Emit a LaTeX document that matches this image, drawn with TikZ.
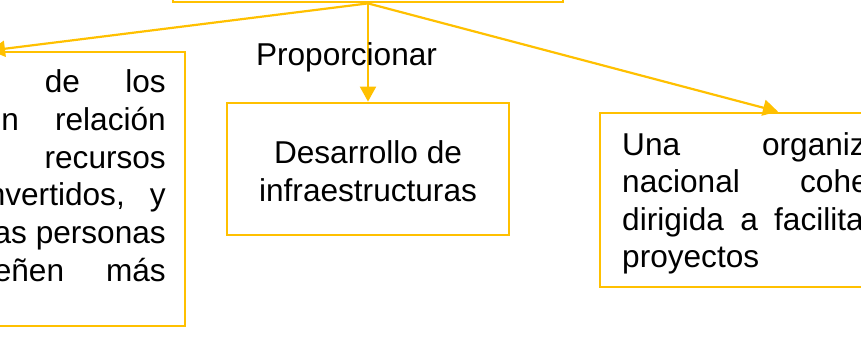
\documentclass[tikz,border=0pt]{standalone}
\usepackage{fontspec}
\setmainfont{Liberation Sans}
\usetikzlibrary{arrows.meta}
\definecolor{gold}{RGB}{255,192,0}
\tikzset{
  box/.style={draw=gold, line width=2.8pt, inner sep=0pt},
  arr/.style={draw=gold, line width=2.2pt, -{Triangle[width=16pt,length=15pt]}},
  txt/.style={inner sep=0pt, font=\fontsize{31.6}{37.7}\selectfont}
}
\begin{document}
\begin{tikzpicture}[x=1pt,y=-1pt]
\useasboundingbox (0,0) rectangle (861,340);
\clip (0,0) rectangle (861,340);

\node[box, minimum width=390pt, minimum height=124pt] (top) at (368,-60) {};
\node[box, minimum width=390pt, minimum height=274pt] (lft) at (-10,189) {};
\node[box, minimum width=282pt, minimum height=132pt] (mid) at (368,169) {};
\node[box, minimum width=356pt, minimum height=174pt] (rgt) at (778,200) {};

\draw[arr] (top.south) -- (mid.north);
\draw[arr] (top.south) -- (lft.north);
\draw[arr] (top.south) -- (rgt.north);

\node[txt, anchor=base] (prop) at (346.5,65) {Proporcionar};

\node[txt, align=center] (midtxt) at (368,171) {Desarrollo de\\infraestructuras};

% left box, justified lines
\node[txt, anchor=base east] (l1) at (166,92) {\makebox[121pt][s]{de los}};
\node[txt, anchor=base east] (l2) at (166,130) {\makebox[182pt][s]{en relación}};
\node[txt, anchor=base east] (l3) at (166,168) {recursos};
\node[txt, anchor=base east] (l4) at (166,205) {\makebox[178pt][s]{nvertidos, y}};
\node[txt, anchor=base east] (l5) at (166,243) {as personas};
\node[txt, anchor=base east] (l6) at (166,281) {\makebox[172pt][s]{eñen más}};

% right box
\node[txt, anchor=base west] (r1) at (622,155) {\makebox[243.6pt][s]{Una organiz}};
\node[txt, anchor=base west] (r2) at (622,192) {\makebox[246.5pt][s]{nacional cohe}};
\node[txt, anchor=base west] (r3) at (622,230) {\makebox[241.6pt][s]{dirigida a facilita}};
\node[txt, anchor=base west] (r4) at (622,267) {proyectos};
\end{tikzpicture}
\end{document}
